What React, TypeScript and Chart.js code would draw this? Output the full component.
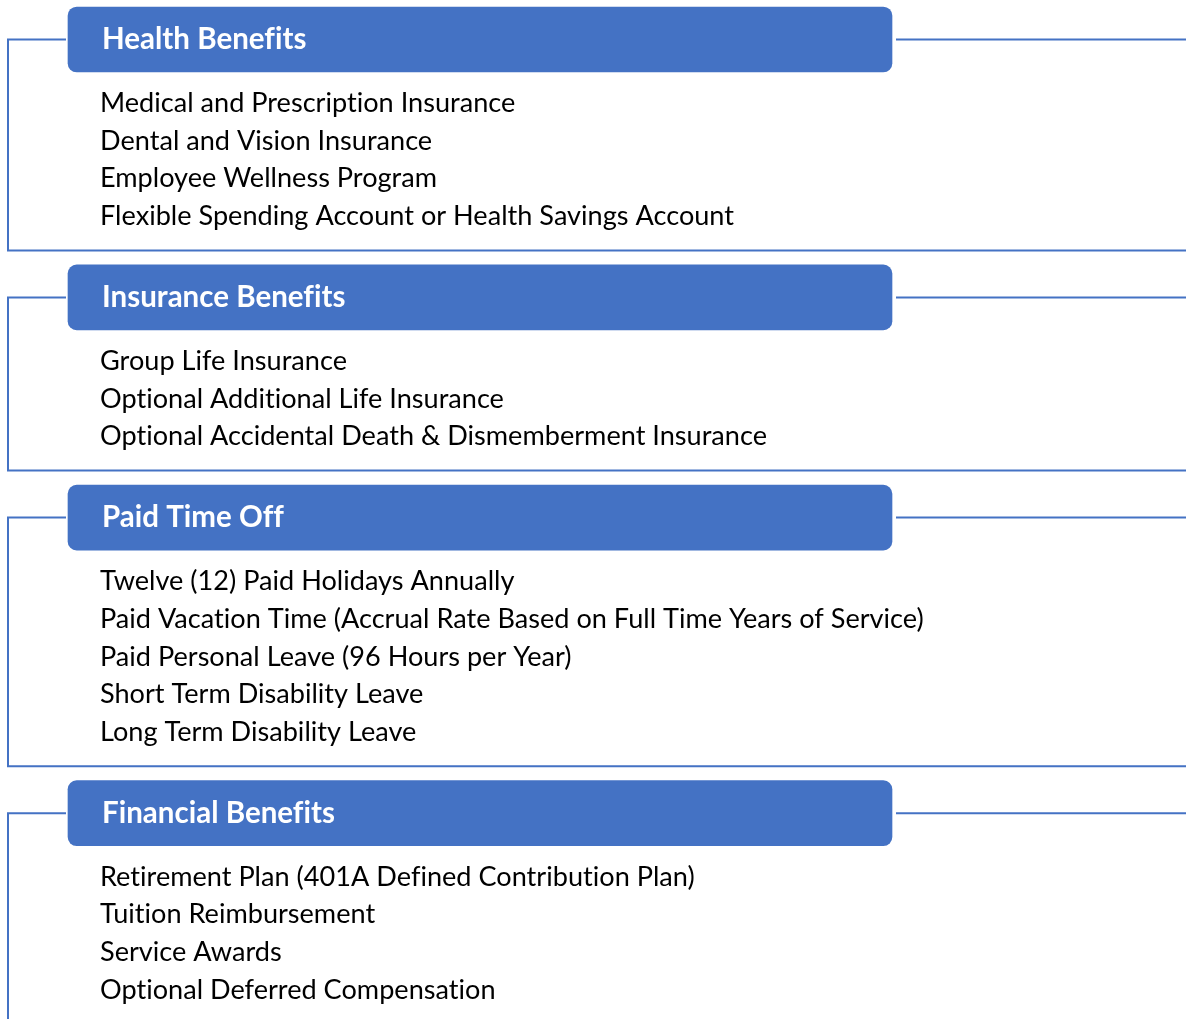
import React, { useEffect, useRef } from "react";
import { Chart, registerables } from "chart.js";

Chart.register(...registerables);

const sectionTitles = ["Health Benefits", "Insurance Benefits", "Paid Time Off", "Financial Benefits"];
const healthItems = [
  "Medical and Prescription Insurance",
  "Dental and Vision Insurance",
  "Employee Wellness Program",
  "Flexible Spending Account or Health Savings Account",
];
const insuranceItems = [
  "Group Life Insurance",
  "Optional Additional Life Insurance",
  "Optional Accidental Death & Dismemberment Insurance",
];
const ptoItems = [
  "Twelve (12) Paid Holidays Annually",
  "Paid Vacation Time (Accrual Rate Based on Full Time Years of Service)",
  "Paid Personal Leave (96 Hours per Year)",
  "Short Term Disability Leave",
  "Long Term Disability Leave",
];
const financialItems = [
  "Retirement Plan (401A Defined Contribution Plan)",
  "Tuition Reimbursement",
  "Service Awards",
  "Optional Deferred Compensation",
];
const sectionItems = [healthItems, insuranceItems, ptoItems, financialItems];

const W = 1186;
const H = 1019;
const BLUE = "#4472C4";

// layout (in scale units that match pixels)
const FIRST_HEADER_Y = 39.5;
const HEADER_TO_ITEM = 63.8;
const ITEM_STEP = 37.7;
const ITEM_TO_BOTTOM = 34;
const BOTTOM_TO_HEADER = 47;

type Sec = { title: string; items: string[]; headerY: number; itemYs: number[]; bottomY: number };

function layout(): Sec[] {
  const out: Sec[] = [];
  let y = FIRST_HEADER_Y;
  sectionTitles.forEach((t, i) => {
    const items = sectionItems[i];
    const itemYs = items.map((_, j) => y + HEADER_TO_ITEM + j * ITEM_STEP);
    const last = itemYs[itemYs.length - 1];
    const bottomY = i === sectionTitles.length - 1 ? H + 20 : last + ITEM_TO_BOTTOM;
    out.push({ title: t, items, headerY: y, itemYs, bottomY });
    y = bottomY + BOTTOM_TO_HEADER;
  });
  return out;
}

export default function App() {
  const ref = useRef<HTMLCanvasElement | null>(null);
  useEffect(() => {
    if (!ref.current) return;
    const secs = layout();
    const lineStyle = {
      type: "line" as const,
      borderColor: BLUE,
      borderWidth: 2,
      pointRadius: 0,
      fill: false,
      tension: 0,
      clip: false,
    };
    const datasets: any[] = [
      {
        type: "bar",
        indexAxis: "y",
        data: secs.map((s) => ({ x: [68, 892], y: s.headerY })),
        backgroundColor: BLUE,
        borderWidth: 0,
        borderRadius: 9,
        borderSkipped: false,
        barThickness: 65,
      },
    ];
    secs.forEach((s) => {
      datasets.push({
        ...lineStyle,
        data: [
          { x: 66, y: s.headerY },
          { x: 8, y: s.headerY },
          { x: 8, y: s.bottomY },
          { x: W, y: s.bottomY },
        ],
      });
      datasets.push({
        ...lineStyle,
        data: [
          { x: 896, y: s.headerY },
          { x: W, y: s.headerY },
        ],
      });
    });

    const textPlugin = {
      id: "texts",
      afterDatasetsDraw(chart: any) {
        const { ctx, scales } = chart;
        const xs = scales.x;
        const ys = scales.y;
        ctx.save();
        ctx.textBaseline = "middle";
        ctx.textAlign = "left";
        try {
          (ctx as any).letterSpacing = "0.01px";
        } catch (e) {}
        secs.forEach((s) => {
          ctx.fillStyle = "#ffffff";
          ctx.font = "bold 29.5px Lato";
          ctx.fillText(s.title, xs.getPixelForValue(102), ys.getPixelForValue(s.headerY));
          ctx.fillStyle = "#000000";
          ctx.font = "27.1px Lato";
          s.items.forEach((it, j) => {
            ctx.fillText(it, xs.getPixelForValue(100), ys.getPixelForValue(s.itemYs[j]));
          });
        });
        ctx.restore();
      },
    };

    const chart = new Chart(ref.current, {
      type: "bar",
      data: { datasets },
      options: {
        animation: false,
        responsive: false,
        devicePixelRatio: 1,
        layout: { padding: 0 },
        plugins: { legend: { display: false }, tooltip: { enabled: false } },
        scales: {
          x: { type: "linear", min: 0, max: W, display: false, offset: false, grace: 0 },
          y: { type: "linear", min: 0, max: H, reverse: true, display: false, offset: false, grace: 0 },
        },
      } as any,
      plugins: [textPlugin],
    });
    return () => chart.destroy();
  }, []);
  return (
    <div style={{ position: "absolute", left: 0, top: 0, width: W, height: H, background: "#fff" }}>
      <canvas ref={ref} width={W} height={H} style={{ display: "block" }} />
    </div>
  );
}
